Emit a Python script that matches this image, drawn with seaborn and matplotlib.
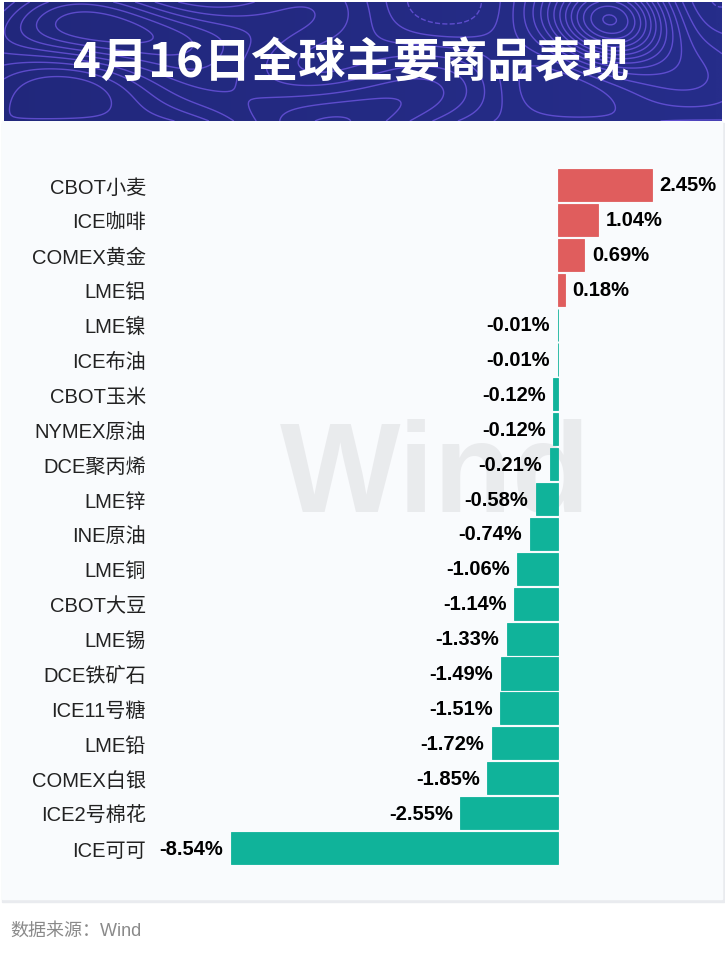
import numpy as np
import matplotlib.pyplot as plt
import seaborn as sns
import pandas as pd
from matplotlib.patches import Rectangle

# 数据
names = ["CBOT小麦", "ICE咖啡", "COMEX黄金", "LME铝", "LME镍", "ICE布油", "CBOT玉米",
         "NYMEX原油", "DCE聚丙烯", "LME锌", "INE原油", "LME铜", "CBOT大豆", "LME锡",
         "DCE铁矿石", "ICE11号糖", "LME铅", "COMEX白银", "ICE2号棉花", "ICE可可"]
changes = [2.45, 1.04, 0.69, 0.18, -0.01, -0.01, -0.12, -0.12, -0.21, -0.58, -0.74,
           -1.06, -1.14, -1.33, -1.49, -1.51, -1.72, -1.85, -2.55, -8.54]
title = "4月16日全球主要商品表现"
source = "数据来源：Wind"

RED = "#e05d5d"
GREEN = "#10b39a"

df = pd.DataFrame({"name": names, "chg": changes})
df["dir"] = np.where(df["chg"] >= 0, "up", "down")

sns.set_theme(style="white")
plt.rcParams['font.family'] = ['Liberation Sans', 'Noto Sans CJK SC', 'DejaVu Sans']

W, H = 725, 954
fig = plt.figure(figsize=(W / 100, H / 100), dpi=100)
fig.patch.set_facecolor("white")

# 面板背景 + 阴影
bg = fig.add_axes([0, 0, 1, 1], zorder=-5)
bg.set_xlim(0, W)
bg.set_ylim(H, 0)
bg.axis("off")
bg.add_patch(Rectangle((2, 124), 722, 779, color="#e9ebef", zorder=0))
bg.add_patch(Rectangle((2, 122), 720, 778, color="#f9fbfd", zorder=1))
bg.text(10, 931, source, fontsize=13, color="#8a8a8a", va="center", ha="left")

# 标题背景（装饰性等高线）
hd = fig.add_axes([4 / W, 1 - 122 / H, 718 / W, 119 / H])
gx, gy = np.meshgrid(np.linspace(0, 718, 300), np.linspace(0, 119, 80))
grad = 0.6 + 0.4 * (gx / 718)
hd.imshow(grad, extent=(0, 718, 119, 0), cmap=sns.blend_palette(["#1b2068", "#262d8a"], as_cmap=True),
          aspect="auto", vmin=0, vmax=1)
field = (1.0 * np.exp(-(((gx - 610) / 60) ** 2 + ((gy - 20) / 45) ** 2))
         + 0.6 * np.exp(-(((gx - 120) / 150) ** 2 + ((gy - 30) / 40) ** 2))
         + 0.5 * np.exp(-(((gx - 330) / 120) ** 2 + ((gy - 110) / 50) ** 2))
         + 0.15 * np.sin(gx / 40.0) * np.cos(gy / 25.0))
hd.contour(gx, gy, field, levels=14, colors="#8463ff", linewidths=1.0, alpha=0.6)
hd.set_xlim(0, 718)
hd.set_ylim(119, 0)
hd.axis("off")
hd.text(347, 61, title, fontsize=34, fontweight="bold", color="white",
        ha="center", va="center", family=['Noto Sans CJK SC', 'DejaVu Sans'])

# 条形图
left_px, right_px = 150, 720
zero_px, min_px = 558, 231
scale = (zero_px - min_px) / 8.54
xlo = -(zero_px - left_px) / scale
xhi = (right_px - zero_px) / scale
top_px, bot_px = 186 - 17.45, 849 + 17.45
ax = fig.add_axes([left_px / W, 1 - bot_px / H, (right_px - left_px) / W, (bot_px - top_px) / H])
ax.set_facecolor("none")

# 水印
ax.text(-3.2, 8.4, "Wind", fontsize=92, fontweight="bold", color="#e6e7ea", alpha=0.8,
        ha="center", va="center", zorder=0)

sns.barplot(data=df, x="chg", y="name", hue="dir", palette={"up": RED, "down": GREEN},
            orient="h", width=0.92, legend=False,
            dodge=False, saturation=1, ax=ax)
for p in ax.patches:
    p.set_zorder(2)
    p.set_edgecolor(p.get_facecolor())
    p.set_linewidth(0.6)

ax.set_xlim(xlo, xhi)
ax.set_ylim(len(names) - 0.5, -0.5)
ax.set_xlabel("")
ax.set_ylabel("")
ax.set_xticks([])
ax.tick_params(axis="y", length=0, pad=3, labelsize=14.5, labelcolor="#222222")
for s in ax.spines.values():
    s.set_visible(False)

for i, v in enumerate(changes):
    off = 0.2 if v >= 0 else -0.2
    ax.text(v + off, i, f"{v:.2f}%", ha="left" if v >= 0 else "right", va="center",
            fontsize=14.5, fontweight="bold", color="black", zorder=3)

fig.savefig("out.png", dpi=100)
